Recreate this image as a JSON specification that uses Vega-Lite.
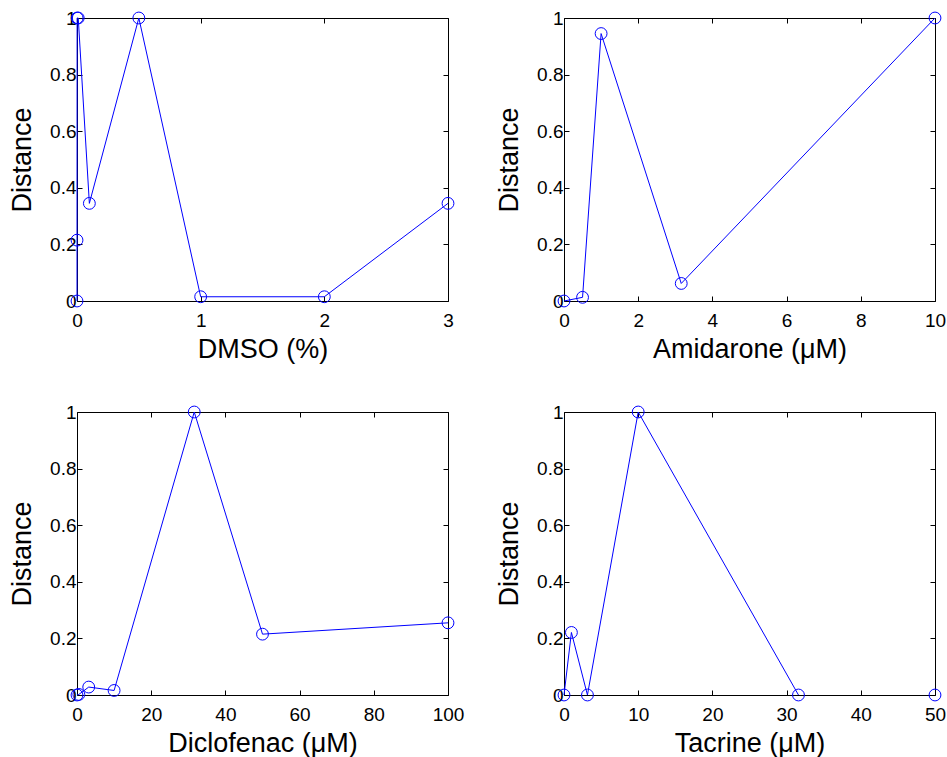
{
  "$schema": "https://vega.github.io/schema/vega-lite/v6.json",
  "background": "white",
  "padding": {"left": 8, "top": 9, "right": 0, "bottom": 5},
  "columns": 2,
  "spacing": {"row": 41, "column": 31},
  "config": {
    "font": "Liberation Sans",
    "view": {"stroke": null},
    "axis": {
      "grid": false,
      "domainColor": "black",
      "domainWidth": 1,
      "tickColor": "black",
      "tickSize": -5,
      "labelColor": "black",
      "labelFont": "Liberation Sans",
      "labelFontSize": 19,
      "titleFont": "Liberation Sans",
      "titleFontSize": 27,
      "titleFontWeight": "normal",
      "titleColor": "black",
      "labelFlush": false,
      "labelOverlap": false
    },
    "line": {"color": "#0000ff", "strokeWidth": 1},
    "point": {"color": "#0000ff", "filled": false, "shape": "circle", "size": 140, "strokeWidth": 1, "opacity": 1}
  },
  "datasets": {
    "dmso": [
      {"x": 0, "y": 0},
      {"x": 0.0001, "y": 0.215},
      {"x": 0.001, "y": 1},
      {"x": 0.01, "y": 1},
      {"x": 0.1, "y": 0.345},
      {"x": 0.5, "y": 1},
      {"x": 1, "y": 0.015},
      {"x": 2, "y": 0.015},
      {"x": 3, "y": 0.345}
    ],
    "amidarone": [
      {"x": 0, "y": 0},
      {"x": 0.5, "y": 0.013},
      {"x": 1, "y": 0.945},
      {"x": 3.16, "y": 0.062},
      {"x": 10, "y": 1}
    ],
    "diclofenac": [
      {"x": 0, "y": 0},
      {"x": 0.5, "y": 0.002},
      {"x": 3.16, "y": 0.028},
      {"x": 10, "y": 0.016},
      {"x": 31.6, "y": 1},
      {"x": 50, "y": 0.215},
      {"x": 100, "y": 0.255}
    ],
    "tacrine": [
      {"x": 0, "y": 0},
      {"x": 1, "y": 0.221},
      {"x": 3.16, "y": 0},
      {"x": 10, "y": 1},
      {"x": 31.6, "y": 0},
      {"x": 50, "y": 0}
    ]
  },
  "concat": [
    {
      "width": 371, "height": 283,
      "data": {"name": "dmso"},
      "layer": [
        {
          "mark": {"type": "line"},
          "encoding": {
            "x": {"field": "x", "type": "quantitative", "scale": {"domain": [0, 3], "nice": false, "zero": false}, "axis": {"orient": "bottom", "values": [0, 1, 2, 3], "format": "~f", "title": "DMSO (%)", "labelPadding": 15, "titlePadding": 6}},
            "y": {"field": "y", "type": "quantitative", "scale": {"domain": [0, 1], "nice": false}, "axis": {"orient": "left", "values": [0, 0.2, 0.4, 0.6, 0.8, 1], "format": "~f", "title": "Distance", "labelPadding": 6, "titlePadding": 13}}
          }
        },
        {
          "mark": {"type": "point"},
          "encoding": {
            "x": {"field": "x", "type": "quantitative", "axis": {"orient": "top", "values": [0, 1, 2, 3], "labels": false, "title": null}},
            "y": {"field": "y", "type": "quantitative", "axis": {"orient": "right", "values": [0, 0.2, 0.4, 0.6, 0.8, 1], "labels": false, "title": null}}
          }
        }
      ],
      "resolve": {"axis": {"x": "independent", "y": "independent"}}
    },
    {
      "width": 371, "height": 283,
      "data": {"name": "amidarone"},
      "layer": [
        {
          "mark": {"type": "line"},
          "encoding": {
            "x": {"field": "x", "type": "quantitative", "scale": {"domain": [0, 10], "nice": false, "zero": false}, "axis": {"orient": "bottom", "values": [0, 2, 4, 6, 8, 10], "format": "~f", "title": "Amidarone (μM)", "labelPadding": 15, "titlePadding": 6}},
            "y": {"field": "y", "type": "quantitative", "scale": {"domain": [0, 1], "nice": false}, "axis": {"orient": "left", "values": [0, 0.2, 0.4, 0.6, 0.8, 1], "format": "~f", "title": "Distance", "labelPadding": 6, "titlePadding": 13}}
          }
        },
        {
          "mark": {"type": "point"},
          "encoding": {
            "x": {"field": "x", "type": "quantitative", "axis": {"orient": "top", "values": [0, 2, 4, 6, 8, 10], "labels": false, "title": null}},
            "y": {"field": "y", "type": "quantitative", "axis": {"orient": "right", "values": [0, 0.2, 0.4, 0.6, 0.8, 1], "labels": false, "title": null}}
          }
        }
      ],
      "resolve": {"axis": {"x": "independent", "y": "independent"}}
    },
    {
      "width": 371, "height": 283,
      "data": {"name": "diclofenac"},
      "layer": [
        {
          "mark": {"type": "line"},
          "encoding": {
            "x": {"field": "x", "type": "quantitative", "scale": {"domain": [0, 100], "nice": false, "zero": false}, "axis": {"orient": "bottom", "values": [0, 20, 40, 60, 80, 100], "format": "~f", "title": "Diclofenac (μM)", "labelPadding": 15, "titlePadding": 6}},
            "y": {"field": "y", "type": "quantitative", "scale": {"domain": [0, 1], "nice": false}, "axis": {"orient": "left", "values": [0, 0.2, 0.4, 0.6, 0.8, 1], "format": "~f", "title": "Distance", "labelPadding": 6, "titlePadding": 13}}
          }
        },
        {
          "mark": {"type": "point"},
          "encoding": {
            "x": {"field": "x", "type": "quantitative", "axis": {"orient": "top", "values": [0, 20, 40, 60, 80, 100], "labels": false, "title": null}},
            "y": {"field": "y", "type": "quantitative", "axis": {"orient": "right", "values": [0, 0.2, 0.4, 0.6, 0.8, 1], "labels": false, "title": null}}
          }
        }
      ],
      "resolve": {"axis": {"x": "independent", "y": "independent"}}
    },
    {
      "width": 371, "height": 283,
      "data": {"name": "tacrine"},
      "layer": [
        {
          "transform": [{"filter": "datum.x < 40"}],
          "mark": {"type": "line"},
          "encoding": {
            "x": {"field": "x", "type": "quantitative", "scale": {"domain": [0, 50], "nice": false, "zero": false}, "axis": {"orient": "bottom", "values": [0, 10, 20, 30, 40, 50], "format": "~f", "title": "Tacrine (μM)", "labelPadding": 15, "titlePadding": 6}},
            "y": {"field": "y", "type": "quantitative", "scale": {"domain": [0, 1], "nice": false}, "axis": {"orient": "left", "values": [0, 0.2, 0.4, 0.6, 0.8, 1], "format": "~f", "title": "Distance", "labelPadding": 6, "titlePadding": 13}}
          }
        },
        {
          "mark": {"type": "point"},
          "encoding": {
            "x": {"field": "x", "type": "quantitative", "axis": {"orient": "top", "values": [0, 10, 20, 30, 40, 50], "labels": false, "title": null}},
            "y": {"field": "y", "type": "quantitative", "axis": {"orient": "right", "values": [0, 0.2, 0.4, 0.6, 0.8, 1], "labels": false, "title": null}}
          }
        }
      ],
      "resolve": {"axis": {"x": "independent", "y": "independent"}}
    }
  ]
}
